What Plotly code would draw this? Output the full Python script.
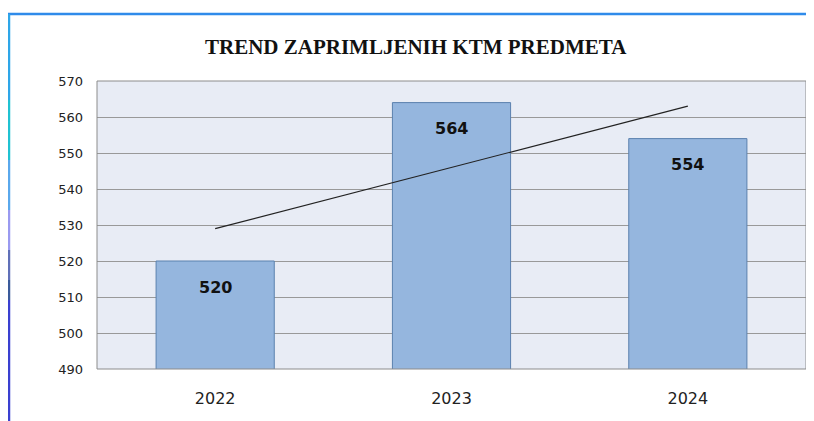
import numpy as np
import plotly.graph_objects as go

years = ["2022", "2023", "2024"]
values = [520, 564, 554]
title_text = "TREND ZAPRIMLJENIH KTM PREDMETA"
y_ticks = [490, 500, 510, 520, 530, 540, 550, 560, 570]

# linear trend line from the data
xi = np.arange(len(values))
slope, intercept = np.polyfit(xi, values, 1)
trend = [float(slope * i + intercept) for i in xi]

# page has an 8px body margin, so the figure is drawn offset by (8, 8)
OFF = 8
W, H = 814 - OFF, 421 - OFF
L, R, T, B = 97 - OFF, 8, 81 - OFF, 52
pw, ph = W - L - R, H - T - B

def px(x):  # page pixel -> paper x
    return (x - OFF - L) / pw

def py(y):  # page pixel -> paper y
    return (H - B - (y - OFF)) / ph

fig = go.Figure()
fig.add_trace(go.Bar(
    x=years, y=values,
    marker=dict(color="#95B6DE", line=dict(color="#5B81AE", width=1)),
    width=0.5, showlegend=False, hoverinfo="skip",
))
fig.add_trace(go.Scatter(
    x=years, y=trend, mode="lines",
    line=dict(color="#222222", width=1.2), showlegend=False, hoverinfo="skip",
))

annotations = []
for i, v in enumerate(values):
    annotations.append(dict(
        x=i, y=v, xref="x", yref="y", text=f"<b>{v}</b>", showarrow=False,
        yanchor="middle", xanchor="center",
        yshift=-26, font=dict(family="DejaVu Sans", size=16, color="#111111"),
    ))
annotations.append(dict(
    x=px(416), y=py(47), xref="paper", yref="paper", xanchor="center", yanchor="middle",
    text=f"<b>{title_text}</b>", showarrow=False,
    font=dict(family="Liberation Serif", size=21, color="#111111"),
))

shapes = [
    dict(type="line", xref="paper", yref="paper", x0=px(8), x1=px(830),
         y0=py(14), y1=py(14), line=dict(color="#2F8BEA", width=2.5)),
    dict(type="rect", xref="paper", yref="paper", x0=0, x1=1, y0=0, y1=1,
         line=dict(color="#8C8C8C", width=1), fillcolor="rgba(0,0,0,0)", layer="above"),
]
# left border with colour gradient
grad = [(14, "#2EA6E8"), (100, "#20C2D2"), (160, "#5AA8EC"), (210, "#9A9AF0"),
        (250, "#6070B8"), (280, "#3A5A9A"), (300, "#3A40D0"), (430, "#3A3FD0")]
for (y0, c0), (y1, _) in zip(grad[:-1], grad[1:]):
    shapes.append(dict(type="line", xref="paper", yref="paper", x0=px(9), x1=px(9),
                       y0=py(y0), y1=py(y1), line=dict(color=c0, width=2.5)))

fig.update_layout(
    width=W, height=H,
    margin=dict(l=L, r=R, t=T, b=B),
    paper_bgcolor="white", plot_bgcolor="#E8ECF5",
    bargap=0.5,
    annotations=annotations, shapes=shapes,
    xaxis=dict(type="category", range=[-0.5, len(years) - 0.5], showgrid=False,
               showline=False, ticks="", zeroline=False,
               tickfont=dict(family="DejaVu Sans", size=16, color="#222222")),
    yaxis=dict(range=[490, 570], tickvals=y_ticks, showgrid=True,
               gridcolor="#999999", gridwidth=1, zeroline=False, showline=False,
               ticks="", ticklen=0, tickfont=dict(family="DejaVu Sans", size=13, color="#222222")),
)
fig.update_xaxes(ticklabelstandoff=18)
fig.update_yaxes(ticklabelstandoff=13)

fig.write_html("out.html")
